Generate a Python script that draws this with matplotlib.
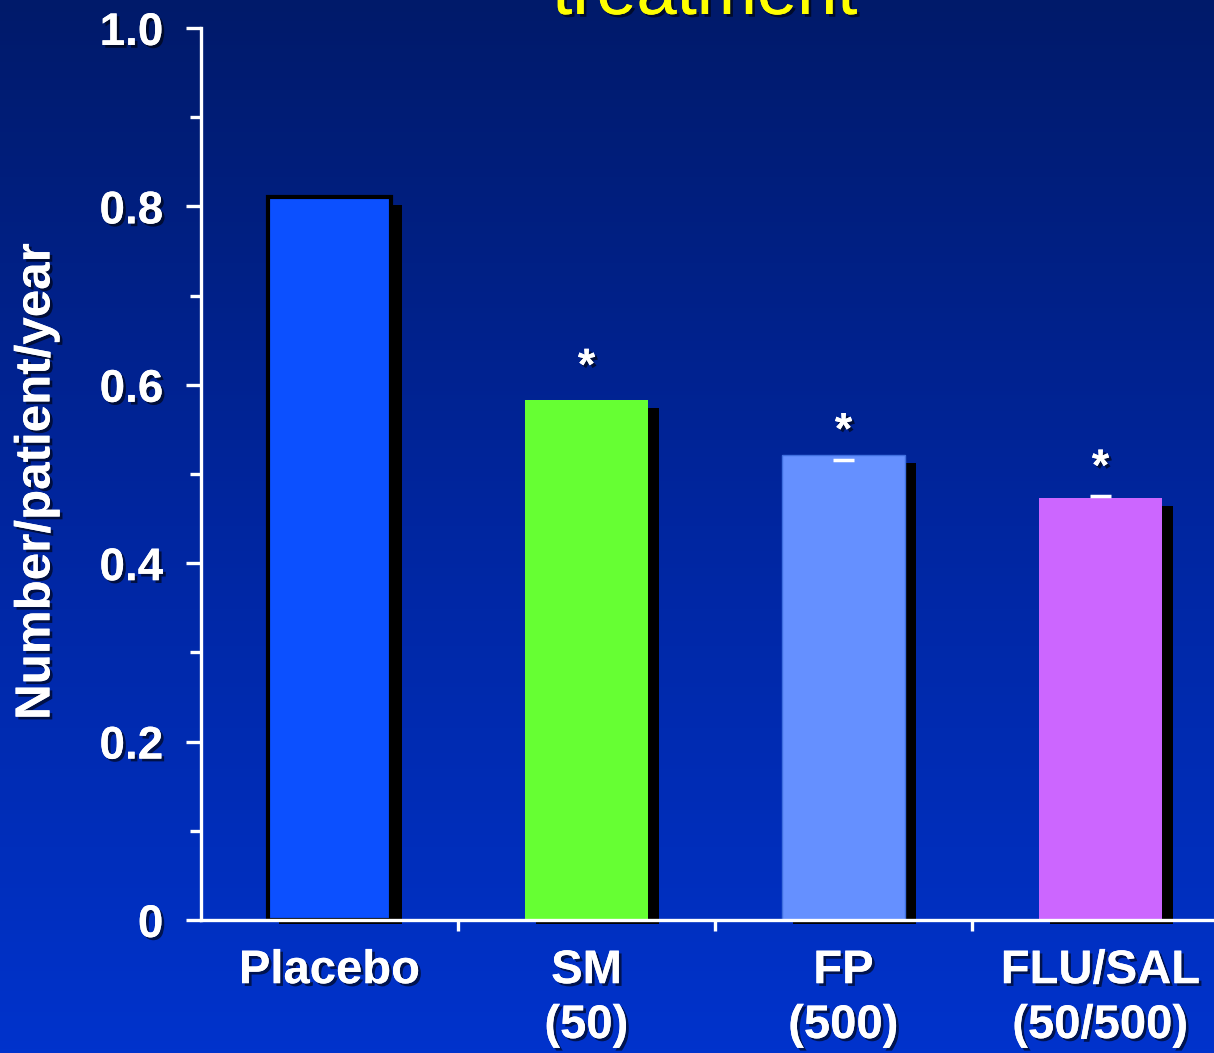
import numpy as np
import matplotlib.pyplot as plt
import matplotlib.patheffects as pe
from matplotlib.colors import LinearSegmentedColormap
from matplotlib.patches import Rectangle

plt.rcParams['font.family'] = ['Liberation Sans', 'DejaVu Sans']

# exacerbation rate per treatment group
groups = ['Placebo', 'SM\n(50)', 'FP\n(500)', 'FLU/SAL\n(50/500)']
rates = [0.81, 0.583, 0.521, 0.473]
err_low = [None, None, 0.516, 0.475]
significant = [False, True, True, True]
bar_colors = ['#0C50FF', '#66FF33', '#6590FF', '#CC66FF']

W, H = 1214, 1053
fig = plt.figure(figsize=(W / 100, H / 100), dpi=100)

# slide background: dark navy fading to brighter blue
bg = fig.add_axes([0, 0, 1, 1], zorder=-10)
grad = LinearSegmentedColormap.from_list('slide', ['#001A6A', '#0026A0', '#0033CC'])
bg.imshow(np.linspace(0, 1, 256).reshape(-1, 1), aspect='auto', cmap=grad,
          extent=[0, 1, 0, 1])
bg.set_axis_off()

shadow = [pe.withSimplePatchShadow(offset=(2, -2), shadow_rgbFace='black', alpha=0.6),
          pe.Normal()]

fig.text(705 / W, 1 - 14 / H, 'treatment', color='#FFFF00', fontsize=52,
         ha='center', va='baseline', path_effects=shadow)

ax = fig.add_axes([201 / W, 1 - 920 / H, 1028 / W, 892 / H])
ax.patch.set_alpha(0)

x = np.arange(len(groups))
width = 0.475
# drop shadow offsets in data units
dx = 11 / 257
dy = 8 / 892
below = 4 / 892
for i, (v, c) in enumerate(zip(rates, bar_colors)):
    ax.add_patch(Rectangle((x[i] - width / 2 + dx, -below), width, v - dy + below,
                           facecolor='black', zorder=1, clip_on=False))
ax.bar(x, rates, width=width, color=bar_colors, zorder=2,
       edgecolor=['black', 'none', '#3F6FE0', 'none'], linewidth=[3, 0, 1, 0])

for i, e in enumerate(err_low):
    if e is not None:
        ax.hlines(e, x[i] - 0.04, x[i] + 0.04, color='white', lw=2.5, zorder=3)

star_y = [None, 0.619, 0.547, 0.506]
for i, s in enumerate(significant):
    if s:
        ax.text(x[i], star_y[i], '*', color='white', fontsize=32, fontweight='bold',
                ha='center', va='center', path_effects=shadow, zorder=4)

ax.set_xlim(-0.5, 3.5)
ax.set_ylim(0, 1.0)
for side in ['top', 'right']:
    ax.spines[side].set_visible(False)
for side in ['left', 'bottom']:
    ax.spines[side].set_color('white')
    ax.spines[side].set_linewidth(2.4)
    ax.spines[side].set_zorder(5)

ax.set_yticks([0, 0.2, 0.4, 0.6, 0.8, 1.0])
ax.set_yticklabels(['0', '0.2', '0.4', '0.6', '0.8', '1.0'])
ax.set_yticks(np.arange(0.1, 1.0, 0.2), minor=True)
ax.tick_params(axis='y', which='major', length=11, width=2.4, color='white', pad=16)
ax.tick_params(axis='y', which='minor', length=8, width=2.4, color='white')

ax.set_xticks(x)
ax.set_xticklabels(groups)
ax.set_xticks([0.5, 1.5, 2.5], minor=True)
ax.tick_params(axis='x', which='major', length=0, pad=21)
ax.tick_params(axis='x', which='minor', length=8, width=2.4, color='white')

for lab in ax.get_yticklabels():
    lab.set_fontsize(33)
for lab in ax.get_xticklabels():
    lab.set_fontsize(34)
    lab.set_linespacing(1.32)
for lab in ax.get_xticklabels() + ax.get_yticklabels():
    lab.set_color('white')
    lab.set_fontweight('bold')
    lab.set_path_effects(shadow)

fig.text(37 / W, 1 - 482 / H, 'Number/patient/year', color='white', fontsize=35.5,
         fontweight='bold', rotation=90, ha='center', va='center', path_effects=shadow)

fig.savefig('out.png', dpi=100)
